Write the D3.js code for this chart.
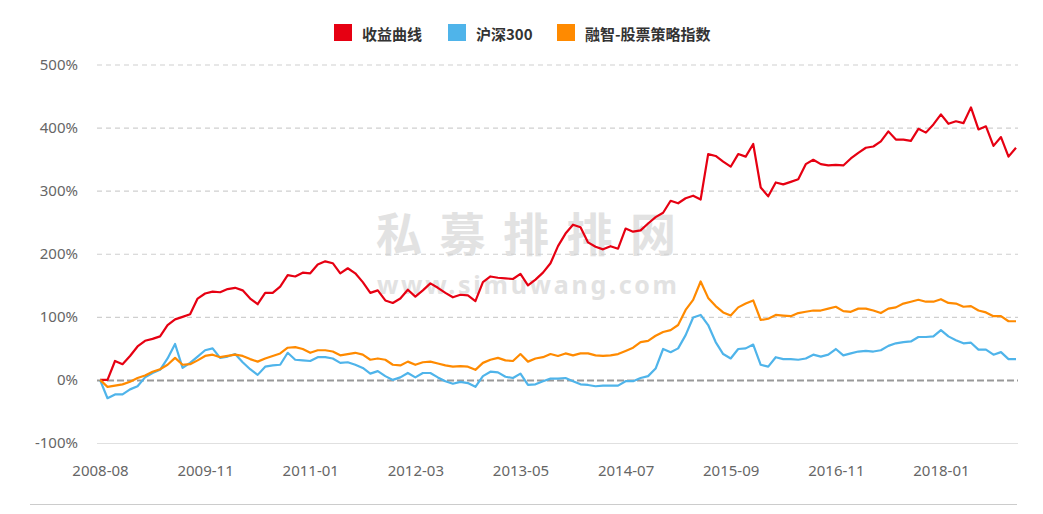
<!DOCTYPE html>
<html>
<head>
<meta charset="utf-8">
<script src="https://cdn.jsdelivr.net/npm/d3@7/dist/d3.min.js"></script>
<style>
  body { margin: 0; background: #fff; }
  svg text { font-family: "Noto Sans", "Noto Sans CJK SC", sans-serif; }
</style>
</head>
<body>
<div class="canvas_line"></div>
<script>
const dimension = {'width': 1043, 'height': 514};
const plot = {'left': 100, 'right': 1016, 'top': 64.5, 'bottom': 443};

// series names + colours for the legend
const seriesNames = ['收益曲线', '沪深300', '融智-股票策略指数'];
const seriesColors = ['#e60012', '#4fb4ea', '#ff8a00'];

// x axis tick labels, one every 14 points
const tickLabels = ['2008-08', '2009-11', '2011-01', '2012-03', '2013-05', '2014-07', '2015-09', '2016-11', '2018-01'];
const tickStep = 14;

// y ticks in %
const yTicks = [-100, 0, 100, 200, 300, 400, 500];

// values in %
const profit = [
  0, 0, 30, 25, 38, 53, 62, 65, 69, 87,
  96, 100, 104, 129, 137, 140, 139, 144, 146, 142,
  129, 120, 138, 138, 148, 166, 164, 170, 169, 183,
  188, 185, 169, 177, 169, 155, 138, 142, 126, 122,
  129, 143, 132, 142, 153, 146, 138, 131, 135, 134,
  125, 155, 164, 162, 161, 160, 168, 150, 159, 170,
  185, 212, 232, 246, 242, 218, 211, 207, 212, 208,
  240, 235, 237, 248, 258, 265, 284, 280, 288, 292,
  286, 358, 355, 346, 338, 358, 354, 374, 305, 291,
  313, 310, 314, 318, 342, 349, 342, 340, 341, 340,
  351, 360, 368, 370, 378, 394, 381, 381, 379, 398,
  392, 405, 421, 406, 410, 407, 432, 397, 402, 371,
  385, 354, 368
];
const hs300 = [
  0, -29, -23, -23, -15, -10, 4, 11, 16, 34,
  57, 19, 27, 37, 47, 50, 35, 37, 41, 28,
  17, 8, 21, 23, 24, 43, 32, 31, 30, 36,
  36, 34, 27, 28, 24, 19, 10, 14, 6, 0,
  4, 11, 4, 11, 11, 4, -2, -6, -3, -5,
  -11, 6, 13, 12, 5, 3, 10, -8, -7, -2,
  2, 2, 3, -2, -7, -8, -10, -9, -9, -9,
  -2, -2, 3, 6, 18, 49, 44, 50, 71, 99,
  103, 87, 60, 41, 34, 49, 50, 56, 24, 21,
  36, 33, 33, 32, 34, 40, 37, 40, 49, 39,
  42, 45, 46, 45, 47, 54, 58, 60, 61, 68,
  68, 69, 79, 69, 63, 58, 59, 48, 48, 40,
  44, 33, 33
];
const strategyIndex = [
  0, -11, -9, -7, -3, 3, 7, 13, 17, 24,
  35, 24, 25, 31, 38, 40, 36, 38, 40, 38,
  33, 29, 34, 38, 42, 51, 52, 49, 43, 47,
  47, 45, 39, 41, 43, 40, 32, 34, 32, 24,
  23, 29, 24, 28, 29, 26, 23, 21, 22, 21,
  16, 27, 32, 35, 31, 30, 41, 29, 34, 36,
  41, 38, 42, 39, 42, 42, 39, 38, 39, 41,
  46, 51, 60, 62, 70, 76, 79, 87, 111, 127,
  156, 130, 117, 107, 102, 115, 121, 126, 95, 97,
  103, 102, 101, 106, 108, 110, 110, 113, 116, 109,
  108, 113, 113, 110, 106, 113, 115, 121, 124, 127,
  124, 124, 128, 122, 121, 116, 117, 110, 107, 101,
  101, 93, 93
];
const allSeries = [profit, hs300, strategyIndex];

const svg = d3.select('.canvas_line')
  .append('svg')
  .attr('width', dimension.width)
  .attr('height', dimension.height);

// scales
const x = d3.scaleLinear().domain([0, profit.length - 1]).range([plot.left, plot.right]);
const y = d3.scaleLinear().domain([-100, 500]).range([plot.bottom, plot.top]);

// watermark
const wm = svg.append('g').attr('fill', '#e2e2e2').attr('font-weight', 'bold');
wm.append('text')
  .attr('x', 376).attr('y', 251)
  .attr('textLength', 300).attr('lengthAdjust', 'spacing')
  .style('font-family', '"Noto Sans CJK SC", sans-serif')
  .style('font-size', '46px')
  .text('私募排排网');
wm.append('text')
  .attr('x', 377).attr('y', 294)
  .attr('textLength', 300).attr('lengthAdjust', 'spacing')
  .style('font-size', '25px')
  .text('www.simuwang.com');

// grid lines
const grid = svg.append('g');
grid.selectAll('line').data(yTicks).enter().append('line')
  .attr('x1', plot.left - 3)
  .attr('x2', plot.right + 2)
  .attr('y1', d => y(d) + 0.5)
  .attr('y2', d => y(d) + 0.5)
  .attr('stroke', d => d === 0 ? '#999' : (d === -100 ? '#e0e0e0' : '#cfcfcf'))
  .attr('stroke-width', d => d === 0 ? 2 : 1.2)
  .attr('stroke-dasharray', d => d === 0 ? '7,3' : (d === -100 ? null : '5,4'));

// y axis labels
const yAxis = d3.axisLeft(y).tickValues(yTicks).tickFormat(d => d + '%').tickSize(0).tickPadding(0);
const yAxisGroup = svg.append('g').attr('transform', `translate(78,0)`).call(yAxis);
yAxisGroup.select('.domain').remove();
yAxisGroup.selectAll('text')
  .attr('fill', '#666')
  .style('font-size', '15px');

// x axis labels
const xAxis = d3.axisBottom(x)
  .tickValues(tickLabels.map((d, i) => i * tickStep))
  .tickFormat((d, i) => tickLabels[i])
  .tickSize(0).tickPadding(0);
const xAxisGroup = svg.append('g').attr('transform', `translate(0,465)`).call(xAxis);
xAxisGroup.select('.domain').remove();
xAxisGroup.selectAll('text')
  .attr('fill', '#666')
  .style('font-size', '15px');

// bottom border
svg.append('line')
  .attr('x1', 30).attr('x2', 1017)
  .attr('y1', 504.5).attr('y2', 504.5)
  .attr('stroke', '#ccc').attr('stroke-width', 1.2);

// lines
const line = d3.line().x((d, i) => x(i)).y(d => y(d));
svg.append('g').selectAll('path').data(allSeries).enter().append('path')
  .attr('d', line)
  .attr('fill', 'none')
  .attr('stroke', (d, i) => seriesColors[i])
  .attr('stroke-width', 2.2)
  .attr('stroke-linejoin', 'round');

// legend
const legendX = [334, 448, 557];
const legend = svg.append('g').selectAll('g').data(seriesNames).enter().append('g')
  .attr('transform', (d, i) => `translate(${legendX[i]},24)`);
legend.append('rect')
  .attr('width', 18).attr('height', 17)
  .attr('fill', (d, i) => seriesColors[i]);
legend.append('text')
  .attr('x', 28).attr('y', 9)
  .attr('dominant-baseline', 'central')
  .attr('fill', '#333')
  .attr('font-weight', 'bold')
  .style('font-size', '15px')
  .style('font-family', '"Noto Sans CJK SC", sans-serif')
  .text(d => d);
</script>
</body>
</html>
